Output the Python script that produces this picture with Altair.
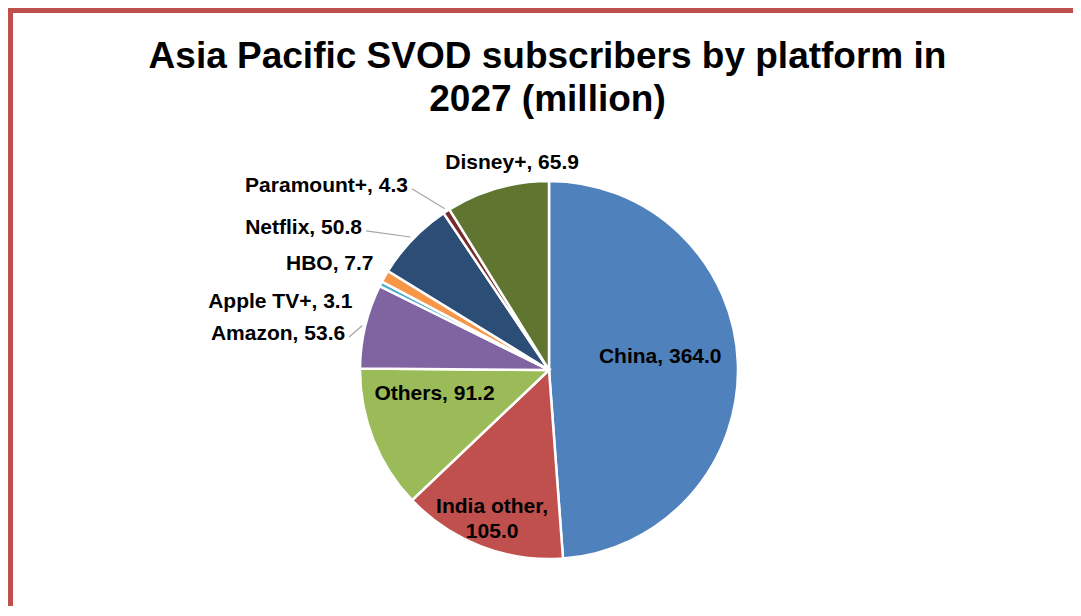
import altair as alt
import pandas as pd

# ---- data ----
categories = ["China", "India other", "Others", "Amazon", "Apple TV+", "HBO",
              "Netflix", "Paramount+", "Disney+"]
values = [364.0, 105.0, 91.2, 53.6, 3.1, 7.7, 50.8, 4.3, 65.9]
colors = ["#4F81BD", "#C0504D", "#9BBB59", "#8064A2", "#4BACC6", "#F79646",
          "#2C4D75", "#772C2A", "#5F7530"]
title_lines = ["Asia Pacific SVOD subscribers by platform in", "2027 (million)"]

# ---- label layout (styling: radius in px, angular nudge in degrees) ----
label_layout = {
    "China":       dict(r=112, shift=-4.6, align="center", leader=False),
    "India other": dict(r=148, shift=1.5, align="center", leader=False),
    "Others":      dict(r=117, shift=9.7, align="center", leader=False),
    "Amazon":      dict(r=207, shift=-3.4, align="right", leader=True),
    "Apple TV+":   dict(r=208, shift=-8.1, align="right", leader=False),
    "HBO":         dict(r=205, shift=1.4, align="right", leader=False),
    "Netflix":     dict(r=235, shift=-6.6, align="right", leader=True),
    "Paramount+":  dict(r=232, shift=-4.6, align="right", leader=True),
    "Disney+":     dict(r=210, shift=5.8, align="center", leader=False),
}

total = sum(values)
rows = []
cum = 0.0
for i, (c, v) in enumerate(zip(categories, values)):
    mid = cum + v / 2
    cum += v
    lay = label_layout[c]
    txt = f"{c}, {v:.1f}"
    if c == "India other":
        txt = f"{c},\n{v:.1f}"
    rows.append(dict(idx=i, category=c, value=v, mid=mid,
                     label_pos=mid + lay["shift"] * total / 360.0,
                     label_r=lay["r"], align=lay["align"],
                     leader=lay["leader"], label=txt))
df = pd.DataFrame(rows)

CX, CY, R = 541, 232, 189
FONT = "Liberation Sans"

theta_scale = alt.Scale(domain=[0, total])
color_scale = alt.Scale(domain=categories, range=colors)

base = alt.Chart(df)

pie = base.mark_arc(radius=R, stroke="white", strokeWidth=2.5).encode(
    theta=alt.Theta("value:Q", stack=True, scale=theta_scale),
    order=alt.Order("idx:Q"),
    color=alt.Color("category:N", scale=color_scale, legend=None),
    x=alt.value(CX),
    y=alt.value(CY),
)

def label_layer(align):
    return base.transform_filter(alt.datum.align == align).mark_text(
        font=FONT, fontSize=21, fontWeight="bold", color="black",
        align=align, baseline="middle", lineBreak="\n", lineHeight=25,
    ).encode(
        theta=alt.Theta("label_pos:Q", stack=False, scale=theta_scale),
        radius=alt.Radius("label_r:Q", scale=None),
        text="label:N",
        x=alt.value(CX),
        y=alt.value(CY),
    )

leaders = base.transform_filter(alt.datum.leader == True).transform_calculate(
    ang=f"2*PI*datum.mid/{total}",
    lang=f"2*PI*datum.label_pos/{total}",
).transform_calculate(
    ex=f"{CX} + 192*sin(datum.ang)",
    ey=f"{CY} - 192*cos(datum.ang)",
    lx=f"{CX} + datum.label_r*sin(datum.lang) + 4",
    ly=f"{CY} - datum.label_r*cos(datum.lang) + 3",
).mark_rule(color="#A6A6A6", strokeWidth=1.2).encode(
    x=alt.X("lx:Q", scale=None),
    x2="ex:Q",
    y=alt.Y("ly:Q", scale=None),
    y2="ey:Q",
)

border = alt.Chart(pd.DataFrame({"k": [0]})).mark_rect(
    fill=None, stroke="#C0504D", strokeWidth=6
).encode(
    x=alt.value(2), x2=alt.value(1200),
    y=alt.value(-128), y2=alt.value(800),
)

chart = alt.layer(border, pie, leaders, label_layer("center"), label_layer("right")).properties(
    width=1065,
    height=468,
    padding={"top": 130, "left": 0, "right": 0, "bottom": 0},
    autosize=alt.AutoSizeParams(type="none"),
    title=alt.TitleParams(
        text=title_lines, font=FONT, fontSize=37, fontWeight="bold",
        color="black", anchor="middle", dx=7, lineHeight=43,
        baseline="bottom", offset=-149,
    ),
).configure_view(stroke=None)

chart.save("out.html", embed_options={"renderer": "svg", "actions": False})
